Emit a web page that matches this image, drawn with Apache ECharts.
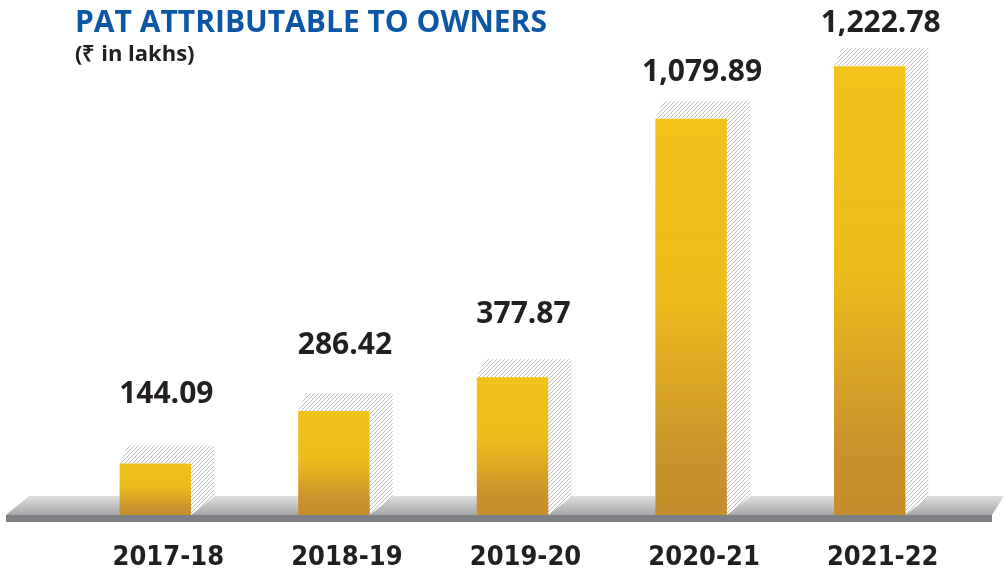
<!DOCTYPE html>
<html><head><meta charset="utf-8">
<script src="https://cdn.jsdelivr.net/npm/echarts@6/dist/echarts.min.js"></script>
<style>html,body{margin:0;padding:0;background:#fff}#c{width:1004px;height:576px}</style>
</head><body><div id="c"></div>
<script>
const categories = ['2017-18', '2018-19', '2019-20', '2020-21', '2021-22'];
const patValues = [144.09, 286.42, 377.87, 1079.89, 1222.78];
const titleText = 'PAT ATTRIBUTABLE TO OWNERS';
const unitText = '(₹ in lakhs)';

// hatch pattern
const pc = document.createElement('canvas');
pc.width = 4; pc.height = 4;
const px = pc.getContext('2d');
px.fillStyle = '#ffffff'; px.fillRect(0, 0, 4, 4);
px.strokeStyle = '#bdbdbd'; px.lineWidth = 1.0;
px.beginPath();
px.moveTo(0, 4); px.lineTo(4, 0);
px.moveTo(-1, 1); px.lineTo(1, -1);
px.moveTo(3, 5); px.lineTo(5, 3);
px.stroke();
const hatch = { image: pc, repeat: 'repeat' };

const barGrad = new echarts.graphic.LinearGradient(0, 0, 0, 1, [
  { offset: 0, color: '#F0C21A' },
  { offset: 0.45, color: '#EDBD1D' },
  { offset: 0.85, color: '#C9922B' },
  { offset: 1, color: '#C68E2C' }
]);

function fmt(v) {
  return v.toLocaleString('en-US', { minimumFractionDigits: 2, maximumFractionDigits: 2 });
}

const chart = echarts.init(document.getElementById('c'));
chart.setOption({
  backgroundColor: '#ffffff',
  animation: false,
  title: {
    text: titleText,
    subtext: unitText,
    left: 70, top: 3,
    itemGap: 6,
    textStyle: { fontFamily: 'Open Sans', fontWeight: 'bold', fontSize: 30, color: '#0B57A6' },
    subtextStyle: { fontFamily: 'Open Sans', fontWeight: 'bold', fontSize: 22, color: '#231F20' }
  },
  grid: { left: 66, right: 45, top: 1, bottom: 59.5 },
  xAxis: {
    type: 'category',
    data: categories,
    axisLine: { show: false }, axisTick: { show: false },
    axisLabel: {
      margin: 28, padding: [0, 0, 0, 26],
      fontFamily: 'DejaVu Sans Condensed', fontWeight: 'bold', fontSize: 27, color: '#231F20'
    }
  },
  yAxis: { type: 'value', min: 0, max: 1400, show: false, splitLine: { show: false } },
  graphic: [
    {
      type: 'polygon', z: 0,
      shape: { points: [[29, 496], [1004, 496], [992, 515], [6, 515]] },
      style: { fill: new echarts.graphic.LinearGradient(0, 0, 0, 1, [
        { offset: 0, color: '#dedfe1' }, { offset: 1, color: '#a6a7a9' }]) }
    },
    { type: 'rect', z: 0, shape: { x: 6, y: 515, width: 986, height: 7 }, style: { fill: '#808184' } }
  ],
  series: [{
    type: 'custom',
    z: 5,
    data: patValues.map((v, i) => [i, v]),
    renderItem: function (params, api) {
      const idx = api.value(0), v = api.value(1);
      const top = api.coord([idx, v]);
      const base = api.coord([idx, 0]);
      const w = api.size([1, 0])[0] * 0.4;
      const x0 = top[0] - w / 2, x1 = top[0] + w / 2;
      const yt = top[1], yb = base[1] - 1.5;
      const dx = 23, dy = 18, dxl = 8;
      // label gap shrinks slightly for taller bars, as in the reference
      const gap = 72 - 0.024 * v;
      return {
        type: 'group',
        children: [
          { type: 'polygon', shape: { points: [[x1, yt], [x1 + dx, yt - dy], [x1 + dx, yb - dy], [x1, yb]] }, style: { fill: hatch } },
          { type: 'polygon', shape: { points: [[x0, yt], [x1, yt], [x1 + dx, yt - dy], [x0 + dxl, yt - dy]] }, style: { fill: hatch } },
          { type: 'rect', shape: { x: x0, y: yt, width: w, height: yb - yt }, style: { fill: barGrad } },
          { type: 'text', style: { x: top[0] + 11, y: yt - gap, text: fmt(v), align: 'center', verticalAlign: 'middle',
              fontFamily: 'Open Sans', fontWeight: 'bold', fontSize: 30, fill: '#231F20' } }
        ]
      };
    }
  }]
});
</script></body></html>
